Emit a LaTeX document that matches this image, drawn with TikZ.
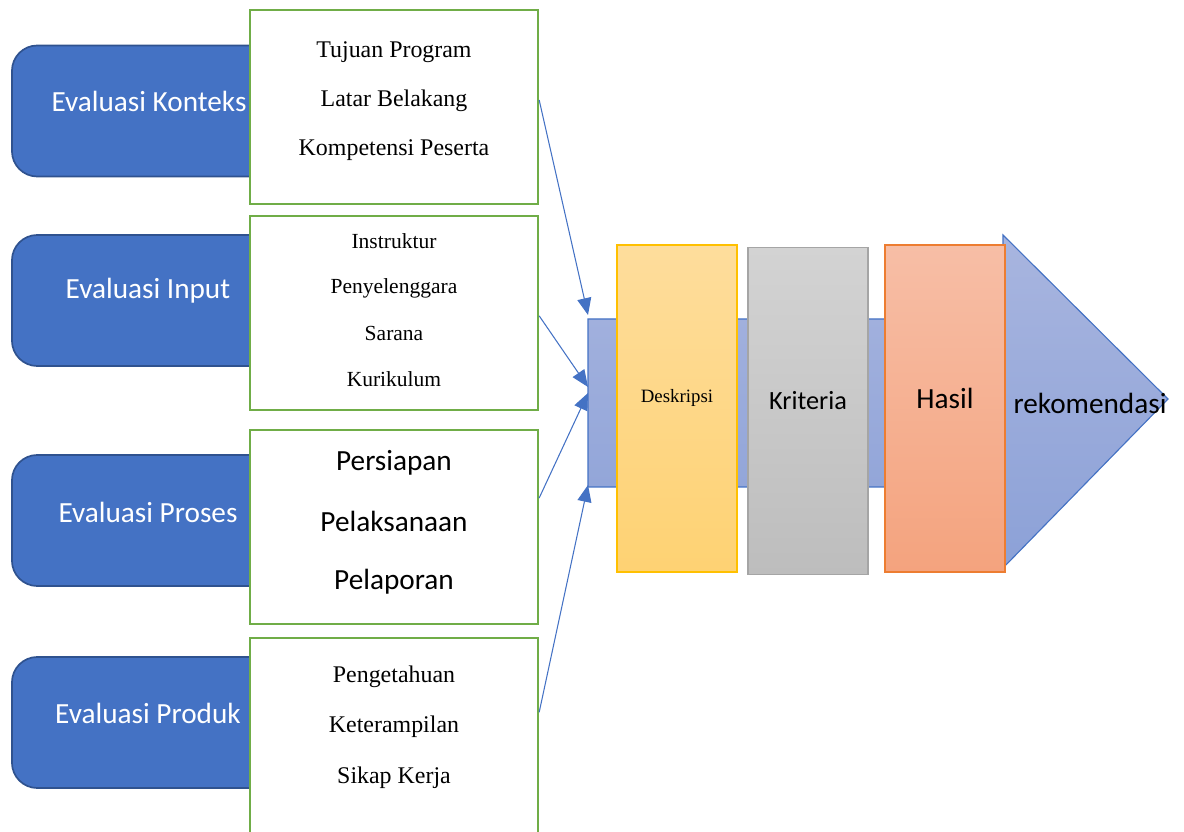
\documentclass[tikz,border=0pt]{standalone}
\usepackage{fontspec}
\setmainfont{Liberation Serif}
\newfontfamily\calibri{Carlito}
\usetikzlibrary{arrows.meta,positioning}
\definecolor{evalblue}{RGB}{68,114,196}
\definecolor{evaledge}{RGB}{47,82,143}
\definecolor{boxgreen}{RGB}{112,173,71}
\definecolor{bandtop}{RGB}{168,181,223}
\definecolor{bandbot}{RGB}{140,161,215}
\definecolor{desktop}{RGB}{254,221,156}
\definecolor{deskbot}{RGB}{254,210,115}
\definecolor{deskedge}{RGB}{255,192,0}
\definecolor{krittop}{RGB}{211,211,211}
\definecolor{kritbot}{RGB}{189,189,189}
\definecolor{kritedge}{RGB}{165,165,165}
\definecolor{hasiltop}{RGB}{247,190,166}
\definecolor{hasilbot}{RGB}{244,163,126}
\definecolor{hasiledge}{RGB}{237,125,49}

\begin{document}
\begin{tikzpicture}[x=0.025cm,y=-0.025cm,
    phase/.style={draw=evaledge,line width=1.2pt,fill=evalblue,rounded corners=18pt,
      minimum width=6.8cm,minimum height=3.275cm,inner sep=0pt},
    phasetext/.style={text=white,font=\calibri\fontsize{20.8}{24}\selectfont},
    itembox/.style={draw=boxgreen,line width=1.6pt,fill=white,minimum width=7.2cm,
      minimum height=4.85cm,inner sep=0pt},
    item/.style={font=\fontsize{17}{20}\selectfont},
    column/.style={line width=0.8pt,minimum width=3cm,minimum height=8.175cm,inner sep=0pt},
    feed/.style={-{Triangle[length=12pt,width=10pt]},draw=evalblue,line width=0.75pt}
  ]
    \useasboundingbox (0,0) rectangle (1184,832);
    \clip (0,0) rectangle (1184,832);

    % evaluation phases
    \node[phase] (konteks) at (148,111) {};
    \node[phase] (input) at (148,300.5) {};
    \node[phase] (proses) at (148,520.5) {};
    \node[phase] (produk) at (148,722.5) {};
    \node[phasetext] (tkonteks) at (149,101) {Evaluasi Konteks};
    \node[phasetext] (tinput) at (148,291) {Evaluasi Input};
    \node[phasetext] (tproses) at (148,512) {Evaluasi Proses};
    \node[phasetext] (tproduk) at (148,713) {Evaluasi Produk};

    % aspect boxes
    \node[itembox] (bkonteks) at (394,107) {};
    \node[itembox] (binput) at (394,313) {};
    \node[itembox] (bproses) at (394,527) {};
    \node[itembox,minimum height=5.05cm] (bproduk) at (394,739) {};

    \node[item] (k1) at (394,52) {Tujuan Program};
    \node[item] (k2) at (394,101) {Latar Belakang};
    \node[item] (k3) at (394,150) {Kompetensi Peserta};

    \node[item,font=\fontsize{15.3}{18}\selectfont] (i1) at (394,241) {Instruktur};
    \node[item,font=\fontsize{15.3}{18}\selectfont] (i2) at (394,288) {Penyelenggara};
    \node[item,font=\fontsize{15.3}{18}\selectfont] (i3) at (394,333) {Sarana};
    \node[item,font=\fontsize{15.3}{18}\selectfont] (i4) at (394,379) {Kurikulum};

    \node[item,font=\calibri\fontsize{20.8}{24}\selectfont] (p1) at (394,463) {Persiapan};
    \node[item,font=\calibri\fontsize{20.8}{24}\selectfont] (p2) at (394,521) {Pelaksanaan};
    \node[item,font=\calibri\fontsize{20.8}{24}\selectfont] (p3) at (394,582) {Pelaporan};

    \node[item] (d1) at (394,677) {Pengetahuan};
    \node[item] (d2) at (394,727) {Keterampilan};
    \node[item] (d3) at (394,778) {Sikap Kerja};

    % process arrow
    \path[draw=evalblue,line width=0.8pt,top color=bandtop,bottom color=bandbot]
      (588,319) -- (1003,319) -- (1003,235) -- (1168,399) -- (1003,568)
      -- (1003,487) -- (588,487) -- cycle;
    \coordinate (in1) at (588,315);
    \coordinate (in2) at (588,387);
    \coordinate (in3) at (588,393);
    \coordinate (in4) at (588,485);

    \node[column,draw=deskedge,top color=desktop,bottom color=deskbot] (deskripsi) at (677,408.5) {};
    \node[column,draw=kritedge,top color=krittop,bottom color=kritbot] (kriteria) at (808,411) {};
    \node[column,draw=hasiledge,top color=hasiltop,bottom color=hasilbot] (hasil) at (945,408.5) {};
    \node[font=\fontsize{13.4}{16}\selectfont] (tdeskripsi) at (677,398) {Deskripsi};
    \node[phasetext,text=black,font=\calibri\fontsize{18.7}{22}\selectfont] (tkriteria) at (808,401) {Kriteria};
    \node[phasetext,text=black] (thasil) at (945,398) {Hasil};
    \node[phasetext,text=black] (trekom) at (1090,403) {rekomendasi};

    \draw[feed] ([yshift=5pt]bkonteks.east) -- (in1);
    \draw[feed] ([yshift=-2pt]binput.east) -- (in2);
    \draw[feed] ([yshift=20.6pt]bproses.east) -- (in3);
    \draw[feed] ([yshift=19pt]bproduk.east) -- (in4);
  \end{tikzpicture}
\end{document}
